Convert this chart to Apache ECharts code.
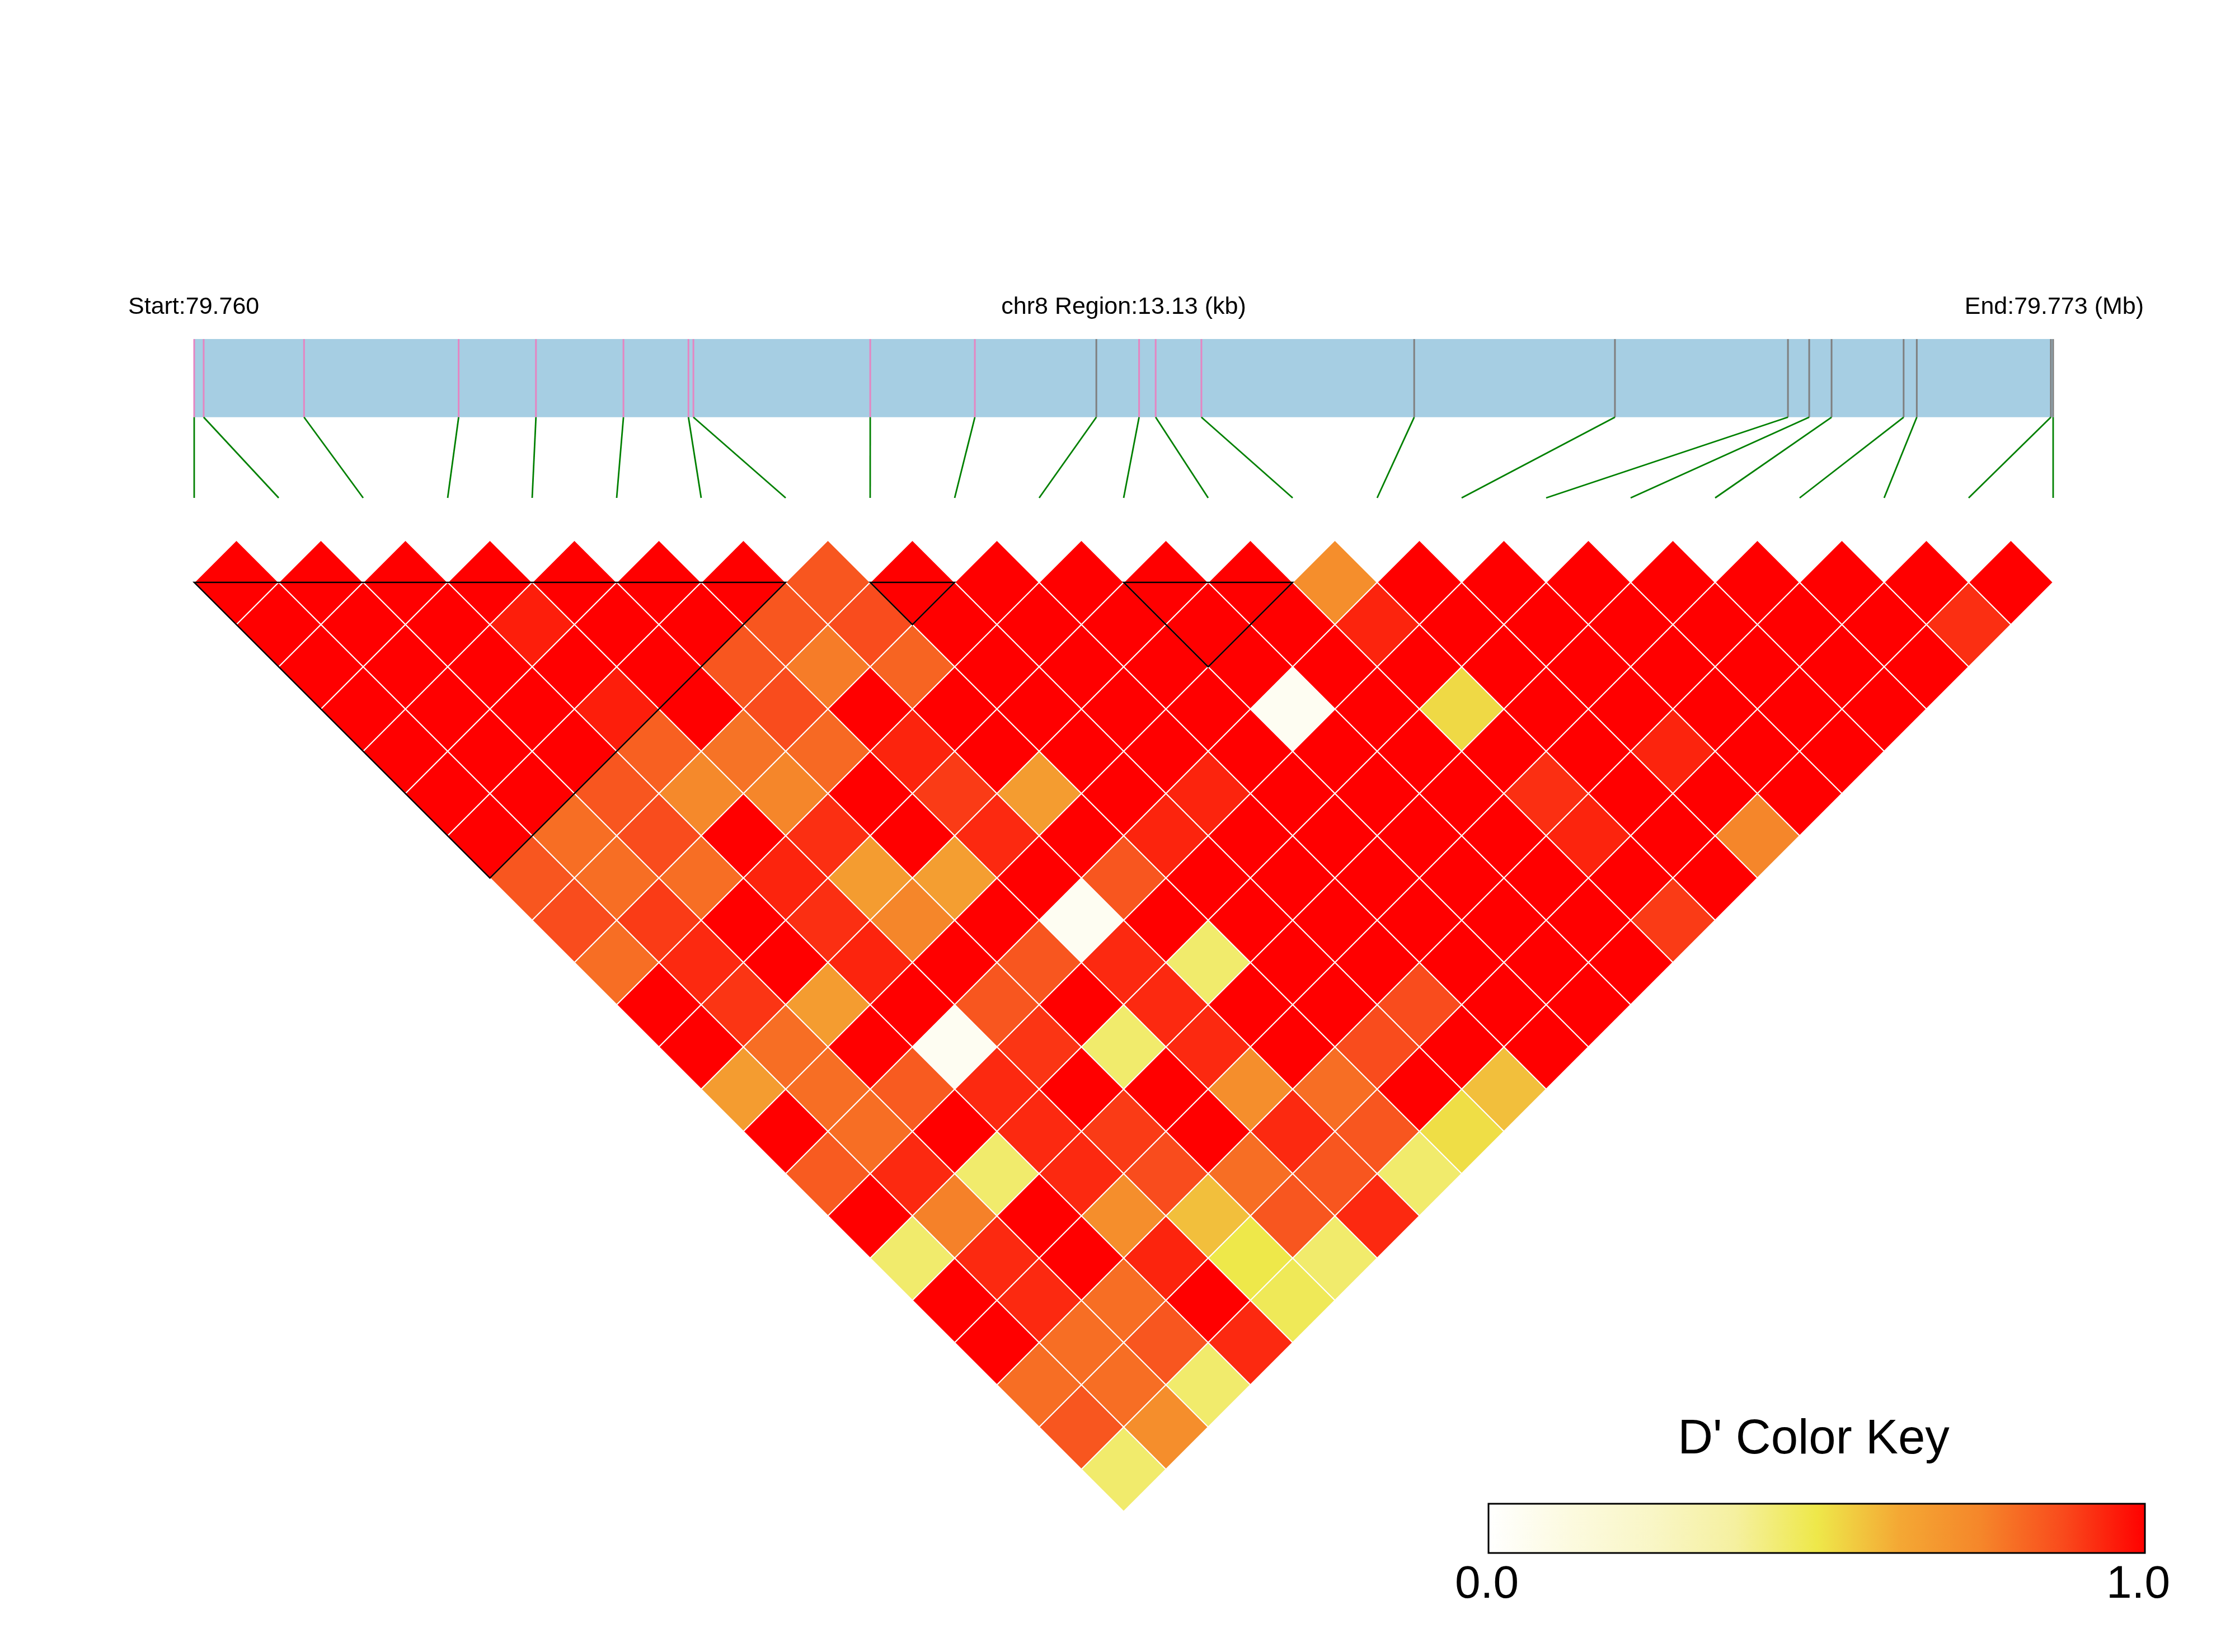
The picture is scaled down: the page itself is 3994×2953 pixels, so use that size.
<!DOCTYPE html>
<html><head><meta charset="utf-8">
<script src="https://cdn.jsdelivr.net/npm/echarts@6/dist/echarts.min.js"></script>
<style>html,body{margin:0;padding:0;background:#fff}#c{width:3994px;height:2953px}</style>
</head><body><div id="c"></div>
<script>
// ---------------- DATA ----------------
const chromName = 'chr8';
// SNP physical positions (bp)
const snpPos = [79760050, 79760117, 79760826, 79761918, 79762464, 79763082, 79763541, 79763576,
  79764825, 79765564, 79766422, 79766724, 79766841, 79767164, 79768667, 79770085, 79771307,
  79771457, 79771615, 79772124, 79772217, 79773164, 79773180];
// marker class per SNP (1 = pink tick, 0 = grey tick)
const snpClass = [1,1,1,1,1,1,1,1,1,1,0,1,1,1,0,0,0,0,0,0,0,0,0];
// haplotype blocks (first SNP index, last SNP index)
const blocks = [[0, 7], [8, 9], [11, 13]];
// D' values: ldByDistance[d-1][i] = D'(SNP i, SNP i+d)
const ldByDistance = [
  [1,1,1,1,1,1,1,0.85,1,1,1,1,1,0.72,1,1,1,1,1,1,1,1],
  [1,1,1,0.95,1,1,0.85,0.87,1,1,1,1,1,0.94,1,1,1,1,1,1,0.92],
  [1,1,1,1,1,0.85,0.77,0.82,1,1,1,1,1,1,1,1,1,1,1,1],
  [1,1,1,0.95,1,0.87,1,1,1,1,1,0.05,1,0.53,1,1,1,1,1],
  [1,1,1,0.83,0.79,0.81,0.94,1,1,1,1,1,1,1,1,0.94,1,1],
  [1,1,0.85,0.74,0.75,1,0.9,0.67,1,0.94,1,1,1,0.92,1,1,1],
  [1,0.8,0.87,1,0.92,1,0.93,1,0.94,1,1,1,1,0.94,1,0.75],
  [0.85,0.8,0.8,0.94,0.67,0.66,1,0.85,1,1,1,1,1,1,1],
  [0.87,0.9,1,0.92,0.75,1,0.05,1,1,1,1,1,1,0.9],
  [0.8,0.93,1,0.94,1,0.85,0.93,0.45,1,1,1,1,1],
  [1,0.91,0.67,1,0.85,1,0.93,1,1,0.87,1,1],
  [1,0.8,1,0.05,0.91,0.45,0.93,1,0.87,1,1],
  [0.67,0.8,0.84,0.93,1,1,0.72,0.8,1,0.58],
  [1,0.8,1,0.93,0.9,1,0.93,0.85,0.52],
  [0.84,0.93,0.45,0.93,0.87,0.8,0.85,0.45],
  [1,0.76,1,0.72,0.58,0.85,0.93],
  [0.45,0.93,1,0.94,0.5,0.45],
  [1,0.93,0.8,1,0.48],
  [1,0.8,0.85,0.93],
  [0.8,0.8,0.45],
  [0.85,0.72],
  [0.45]
];
const keyMin = 0, keyMax = 1;
const keyTickLabels = ['0.0', '1.0'];
const keyTitle = "D' Color Key";

// ---------------- DERIVED ----------------
const nSnp = snpPos.length;
const regionStart = snpPos[0], regionEnd = snpPos[nSnp - 1];
const physToIdx = p => (p - regionStart) / (regionEnd - regionStart) * (nSnp - 1);

const cellData = [];
ldByDistance.forEach((row, k) => row.forEach((v, i) => cellData.push([i, i + k + 1, v])));
const snpData = snpPos.map((p, k) => [physToIdx(p), k, snpClass[k]]);

const palette = ['#FFFFFF', '#FCFADF', '#F9F6C6', '#F5F0A0', '#EEE84A', '#F4A834', '#F5862A', '#F94A1C', '#FF0000'];

// layout constants (y in row units, x in SNP index units)
const BAR_TOP = -4.76, BAR_BOTTOM = -2.91, LINK_END = -1.0;
const FONT = '"Liberation Sans", Arial, Helvetica, sans-serif';

const chart = echarts.init(document.getElementById('c'), null, {renderer: 'canvas'});
chart.setOption({
  backgroundColor: '#ffffff',
  animation: false,
  grid: {left: 347, right: 325, top: 361.5, bottom: 251, containLabel: false, outerBoundsMode: 'none'},
  xAxis: {type: 'value', min: 0, max: nSnp - 1, show: false},
  yAxis: {type: 'value', min: -8, max: nSnp, inverse: true, show: false},
  visualMap: {type: 'continuous', min: keyMin, max: keyMax, dimension: 2, seriesIndex: 0, show: false,
    inRange: {color: palette}},
  series: [
    {
      type: 'custom', name: 'LD', data: cellData, clip: false,
      encode: {x: 0, y: 1},
      renderItem: (params, api) => {
        const i = api.value(0), j = api.value(1);
        const cx = (i + j) / 2, cy = j - i;
        const pts = [[cx, cy - 1], [cx + 0.5, cy], [cx, cy + 1], [cx - 0.5, cy]].map(p => api.coord(p));
        return {type: 'polygon', shape: {points: pts},
          style: {fill: api.visual('color'), stroke: '#ffffff', lineWidth: 2}};
      }
    },
    {
      type: 'custom', name: 'blocks', data: blocks, clip: false,
      renderItem: (params, api) => {
        const s = api.value(0), e = api.value(1);
        const pts = [[s, 1], [e, 1], [(s + e) / 2, 1 + (e - s)]].map(p => api.coord(p));
        return {type: 'polygon', shape: {points: pts},
          style: {fill: 'none', stroke: '#000000', lineWidth: 2.5}, z2: 10};
      }
    },
    {
      type: 'custom', name: 'region', data: [[physToIdx(regionStart), physToIdx(regionEnd)]], clip: false,
      renderItem: (params, api) => {
        const a = api.coord([api.value(0), BAR_TOP]);
        const b = api.coord([api.value(1), BAR_BOTTOM]);
        return {type: 'rect', shape: {x: a[0], y: a[1], width: b[0] - a[0], height: b[1] - a[1]},
          style: {fill: '#A6CEE3'}};
      }
    },
    {
      type: 'custom', name: 'snps', data: snpData, clip: false,
      renderItem: (params, api) => {
        const px = api.value(0), k = api.value(1), cls = api.value(2);
        const t = api.coord([px, BAR_TOP]), b = api.coord([px, BAR_BOTTOM]), e = api.coord([k, LINK_END]);
        return {type: 'group', children: [
          {type: 'line', shape: {x1: t[0], y1: t[1], x2: b[0], y2: b[1]},
            style: {stroke: cls ? '#E585C2' : '#7F7F7F', lineWidth: 3}},
          {type: 'line', shape: {x1: b[0], y1: b[1], x2: e[0], y2: e[1]},
            style: {stroke: '#008000', lineWidth: 2.8}}
        ]};
      }
    }
  ],
  graphic: [
    {type: 'text', left: 229, top: 528, style: {text: 'Start:' + (regionStart / 1e6).toFixed(3),
      font: '43px ' + FONT, fill: '#000'}},
    {type: 'text', x: 2008, y: 549, style: {text: chromName + ' Region:' + ((regionEnd - regionStart) / 1000).toFixed(2) + ' (kb)',
      font: '43px ' + FONT, fill: '#000', align: 'center', verticalAlign: 'middle'}},
    {type: 'text', x: 3831, y: 549, style: {text: 'End:' + (regionEnd / 1e6).toFixed(3) + ' (Mb)',
      font: '43px ' + FONT, fill: '#000', align: 'right', verticalAlign: 'middle'}},
    {type: 'text', x: 3241, y: 2574, style: {text: keyTitle, font: '87px ' + FONT, fill: '#000', align: 'center', verticalAlign: 'middle'}},
    {type: 'rect', shape: {x: 2660, y: 2688, width: 1173, height: 88},
      style: {fill: {type: 'linear', x: 0, y: 0, x2: 1, y2: 0,
        colorStops: palette.map((c, k) => ({offset: k / (palette.length - 1), color: c}))},
        stroke: '#000', lineWidth: 3}},
    {type: 'text', x: 2657, y: 2833, style: {text: keyTickLabels[0], font: '82px ' + FONT, fill: '#000', align: 'center', verticalAlign: 'middle'}},
    {type: 'text', x: 3821, y: 2833, style: {text: keyTickLabels[1], font: '82px ' + FONT, fill: '#000', align: 'center', verticalAlign: 'middle'}}
  ]
});
</script></body></html>
